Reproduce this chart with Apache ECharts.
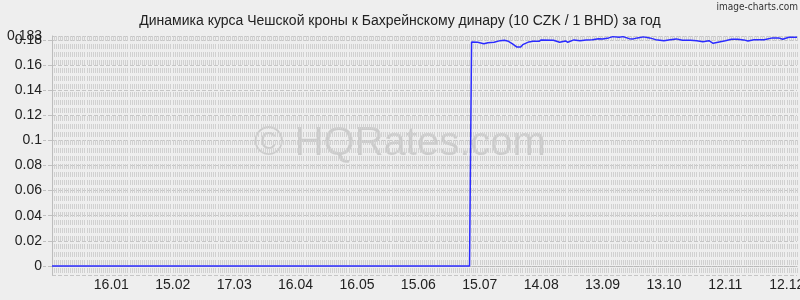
<!DOCTYPE html>
<html>
<head>
<meta charset="utf-8">
<script src="https://cdn.jsdelivr.net/npm/echarts@6/dist/echarts.min.js"></script>
<style>
html,body{margin:0;padding:0;background:#eeeeee;}
#chart{width:800px;height:300px;}
</style>
</head>
<body>
<div id="chart"></div>
<script>
// ---- data ----
const titleText = 'Динамика курса Чешской кроны к Бахрейнскому динару (10 CZK / 1 BHD) за год';
const tickLabels = ['16.01','15.02','17.03','16.04','16.05','15.06','15.07','14.08','13.09','13.10','12.11','12.12'];
const pointDates = ['18.12','10.07','11.07','14.07','17.07','19.07','22.07','25.07','27.07','29.07','31.07',
  '02.08','04.08','05.08','08.08','10.08','13.08','14.08','20.08','23.08','26.08','27.08','30.08',
  '02.09','05.09','08.09','11.09','13.09','16.09','18.09','21.09','23.09','26.09','28.09','30.09',
  '03.10','06.10','09.10','13.10','16.10','19.10','22.10','26.10','29.10',
  '01.11','04.11','06.11','09.11','12.11','15.11','18.11','21.11','23.11','26.11',
  '01.12','05.12','08.12','10.12','13.12','17.12'];
const pointRates = [0,0,0.1783,0.1780,0.1769,0.1777,0.1780,0.1793,0.1796,0.1788,0.1767,
  0.1743,0.1743,0.1761,0.1783,0.1788,0.1788,0.1799,0.1796,0.1780,0.1791,0.1780,0.1799,
  0.1793,0.1799,0.1801,0.1809,0.1807,0.1815,0.1825,0.1820,0.1825,0.1809,0.1807,0.1815,
  0.1823,0.1815,0.1801,0.1793,0.1801,0.1807,0.1796,0.1796,0.1793,
  0.1785,0.1793,0.1772,0.1783,0.1793,0.1804,0.1804,0.1799,0.1791,0.1801,
  0.1801,0.1815,0.1815,0.1804,0.1820,0.1820];
const yMin = -0.0072, yMax = 0.183;

// daily categories (18.12 of previous year .. 17.12)
const days = [];
(function(){
  const d = new Date(2014, 11, 18);
  for (let i = 0; i < 365; i++) {
    const dd = String(d.getDate()).padStart(2,'0');
    const mm = String(d.getMonth()+1).padStart(2,'0');
    days.push(dd + '.' + mm);
    d.setDate(d.getDate()+1);
  }
})();

const seriesData = pointDates.map((d,i)=>[d, pointRates[i]]);

const chart = echarts.init(document.getElementById('chart'), null, {renderer:'canvas'});
const font = 'Liberation Sans, Arial, sans-serif';
chart.setOption({
  backgroundColor: '#eeeeee',
  animation: false,
  title: {
    text: titleText, left: 'center', top: 9,
    textStyle: {fontFamily: font, fontSize: 14, fontWeight: 'normal', color: '#222'}
  },
  graphic: [
    {type:'text', right: 2, top: 2, z: 10,
      style:{text:'image-charts.com', fontFamily:'DejaVu Sans Condensed, sans-serif', fontSize: 10, fill:'#333'}},
    {type:'text', left: 'center', top: 124, z: 0, silent: true,
      style:{text:'© HQRates.com', fontFamily: font, fontSize: 40, fill:'rgba(0,0,0,0.14)'}}
  ],
  grid: {left: 52, right: 3, top: 36, bottom: 25, containLabel: false, outerBoundsMode: 'none'},
  xAxis: {
    type: 'category', data: days, boundaryGap: false,
    axisLine: {show: true, lineStyle: {color: '#b8b8b8', type: 'dotted', width: 1}},
    axisTick: {show: false},
    axisLabel: {
      interval: (idx, val) => tickLabels.includes(val),
      fontFamily: font, fontSize: 14, color: '#222', margin: 3
    },
    splitLine: {show: true, interval: 0, lineStyle: {color: '#d0d0d0', type: [5,3], width: 1}}
  },
  yAxis: [{
    type: 'value', min: yMin, max: yMax, splitNumber: 10, position: 'left',
    axisLine: {show: true, lineStyle: {color: '#bdbdbd', width: 1}},
    axisTick: {show: true, length: 9, lineStyle: {color: '#c0c0c0', type: [4,2]}},
    axisLabel: {
      fontFamily: font, fontSize: 14, color: '#222', margin: 10,
      showMinLabel: false, showMaxLabel: false, hideOverlap: false,
      formatter: v => (v < 0 || v > 0.181) ? '' : String(parseFloat(v.toFixed(4)))
    },
    splitLine: {show: true, lineStyle: {color: '#c6c6c6', type: [4,2], width: 1}}
  }, {
    type: 'value', min: yMin, max: yMax, splitNumber: 10, position: 'left', offset: 0,
    axisLine: {show: false}, axisTick: {show: false}, splitLine: {show: false},
    axisLabel: {
      fontFamily: font, fontSize: 14, color: '#222', margin: 10,
      showMinLabel: false, showMaxLabel: true,
      formatter: v => v > 0.181 ? String(v) : ''
    }
  }],
  series: [{
    type: 'line', data: seriesData, showSymbol: false, symbol: 'none', yAxisIndex: 0,
    lineStyle: {color: '#2b2bff', width: 1.5}, z: 5
  }]
});
</script>
</body>
</html>
